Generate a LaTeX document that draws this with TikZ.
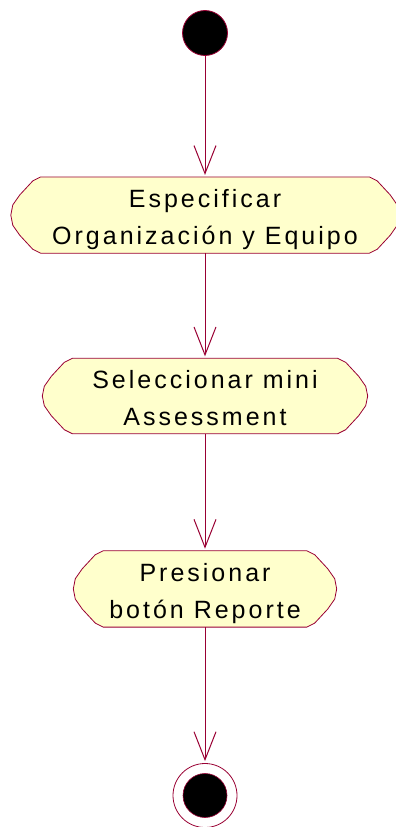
\documentclass[tikz,border=0pt]{standalone}
\usepackage{fontspec}
\newfontfamily\actfont{Liberation Sans}[LetterSpace=12]
\usetikzlibrary{positioning,arrows.meta,backgrounds}
\definecolor{rosered}{RGB}{153,0,51}
\definecolor{roseyellow}{RGB}{255,255,204}
% two text lines of an activity, with struts so all boxes sit alike
\newcommand{\acttext}[2]{\rule{0pt}{28pt}#1\\#2\rule[-6pt]{0pt}{6pt}}
% rounded-octagon outline round an activity node
\newcommand{\actoutline}[1]{%
  \filldraw[actline] ([xshift=30pt]#1.north west) -- ([xshift=22pt,yshift=-4pt]#1.north west)
    -- ([xshift=9pt,yshift=-18pt]#1.north west) -- ([xshift=2pt,yshift=-28pt]#1.north west)
    -- (#1.west) -- ([xshift=2pt,yshift=28pt]#1.south west) -- ([xshift=9pt,yshift=18pt]#1.south west)
    -- ([xshift=22pt,yshift=4pt]#1.south west) -- ([xshift=30pt]#1.south west)
    -- ([xshift=-30pt]#1.south east) -- ([xshift=-22pt,yshift=4pt]#1.south east)
    -- ([xshift=-9pt,yshift=18pt]#1.south east) -- ([xshift=-2pt,yshift=28pt]#1.south east)
    -- (#1.east) -- ([xshift=-2pt,yshift=-28pt]#1.north east) -- ([xshift=-9pt,yshift=-18pt]#1.north east)
    -- ([xshift=-22pt,yshift=-4pt]#1.north east) -- ([xshift=-30pt]#1.north east) -- cycle;}

\begin{document}
\begin{tikzpicture}[x=1pt,y=1pt]
\tikzstyle{activity}=[rectangle, inner sep=0pt, align=center, font=\actfont\fontsize{25}{37}\selectfont]
\tikzstyle{actline}=[draw=rosered, fill=roseyellow, line width=0.8pt]
\tikzstyle{startdot}=[circle, inner sep=0pt, minimum size=45pt, fill=black, draw=rosered, line width=0.8pt]
\tikzstyle{enddot}=[circle, inner sep=0pt, minimum size=64pt, fill=white, draw=rosered, line width=0.8pt,
  path picture={\filldraw[fill=black, draw=rosered, line width=0.6pt] (path picture bounding box.center) circle (22pt);}]
\tikzstyle{connect}=[-{Straight Barb[length=28pt,width=22pt]}, draw=rosered, line width=1pt, shorten >=2pt]
  \useasboundingbox (0,0) rectangle (396,-827);
  \node[startdot] (start) at (205,-33) {};
  \node[activity, minimum width=388pt, minimum height=76pt] (spec) [below=121pt of start]
    {\acttext{Especificar}{Organización y Equipo}};
  \node[activity, minimum width=325pt, minimum height=75pt] (sel) [below=105pt of spec]
    {\acttext{Seleccionar mini}{Assessment}};
  \node[activity, minimum width=263pt, minimum height=76pt] (press) [below=117pt of sel]
    {\acttext{Presionar}{botón Reporte}};
  \node[enddot] (stop) [below=136pt of press] {};
  \begin{pgfonlayer}{background}
    \actoutline{spec}
    \actoutline{sel}
    \actoutline{press}
  \end{pgfonlayer}
  \path (start) edge [connect] (spec)
        (spec) edge [connect] (sel)
        (sel) edge [connect] (press)
        (press) edge [connect] (stop);
\end{tikzpicture}
\end{document}
